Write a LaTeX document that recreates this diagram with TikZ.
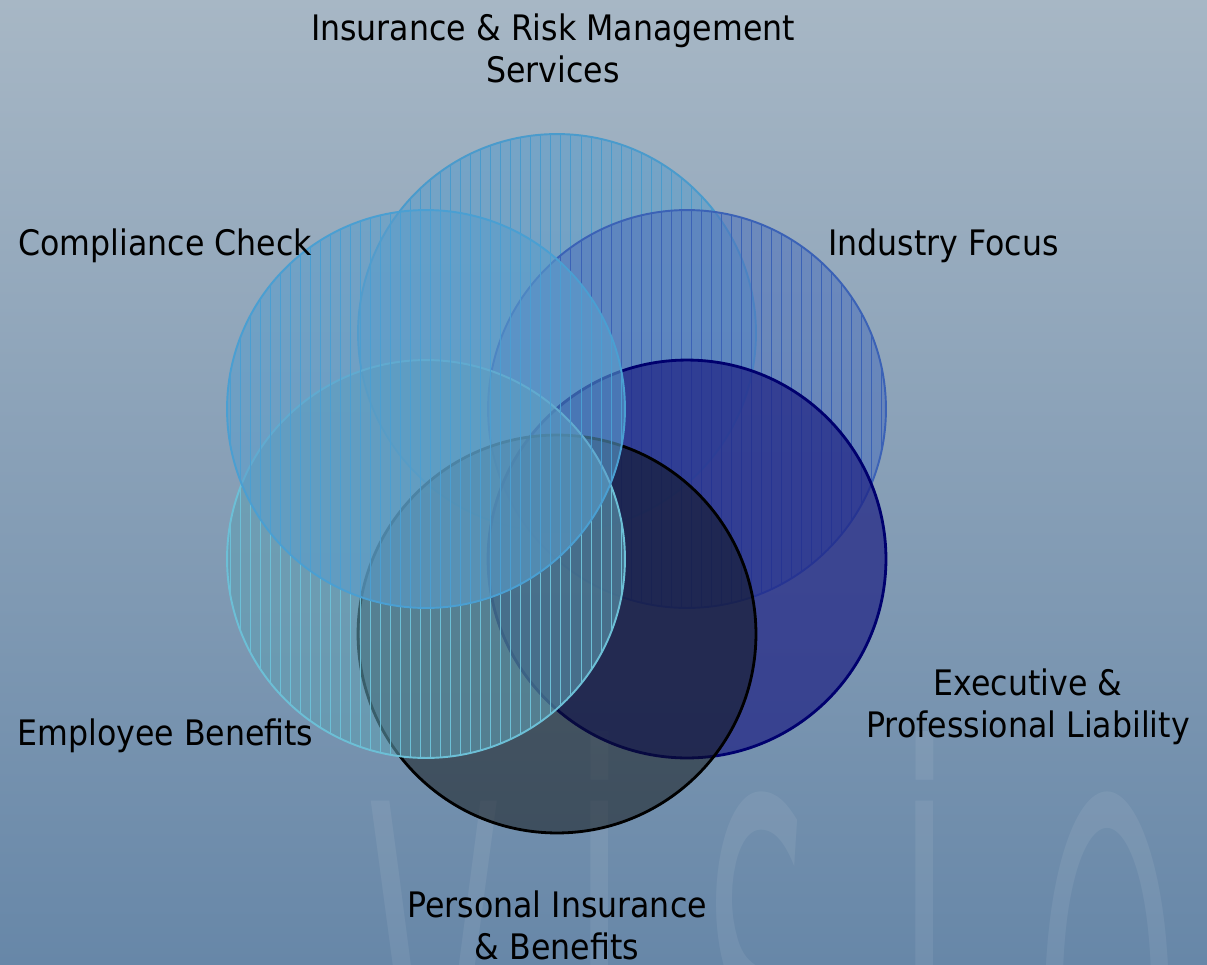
\documentclass[tikz,border=0pt]{standalone}
\usepackage{fontspec}
\setmainfont[FakeStretch=0.9]{DejaVu Sans}
\usepackage{tikz}
\usetikzlibrary{shapes.geometric,positioning,calc,patterns.meta}
\definecolor{BG_TOP}{HTML}{A7B7C5}
\definecolor{BG_MID}{HTML}{98ADC5}
\definecolor{BG_BOT}{HTML}{6787A8}
\definecolor{IRM_FILL}{HTML}{5C9DCA}
\definecolor{IRM_LINE}{HTML}{4A9BCC}
\definecolor{IND_FILL}{HTML}{5074BC}
\definecolor{IND_LINE}{HTML}{3B62B6}
\definecolor{EXE_FILL}{HTML}{1E2183}
\definecolor{EXE_LINE}{HTML}{00006E}
\definecolor{PER_FILL}{HTML}{0E1213}
\definecolor{PER_LINE}{HTML}{000000}
\definecolor{EMP_FILL}{HTML}{609EB2}
\definecolor{EMP_LINE}{HTML}{6CBFD6}
\definecolor{COM_FILL}{HTML}{5A9DCB}
\definecolor{COM_LINE}{HTML}{4A9FD2}
\tikzstyle{CIRCLE} = [circle, inner sep=0pt, minimum size=7.96cm, line width=1.1pt]
\tikzstyle{HATCH} = [pattern={Lines[angle=90, distance=5.7pt, line width=0.4pt]}]
\tikzstyle{LABEL} = [inner sep=0pt, align=center, text=black, font=\fontsize{20}{23.9}\selectfont]

\begin{document}
\begin{tikzpicture}[x=0.02cm, y=-0.02cm]
% Define
\tikzstyle{LIGHT} = [CIRCLE, fill opacity=0.6]
\tikzstyle{DARK} = [CIRCLE, line width=1.6pt]
\tikzstyle{WATERMARK} = [inner sep=0pt, anchor=base, text=white, text opacity=0.07, xscale=0.8, yscale=2.2, font=\sffamily\fontsize{150}{150}\selectfont]
% Background
\useasboundingbox (0,0) rectangle (1207,964);
\clip (0,0) rectangle (1207,964);
\shade [top color=BG_TOP, middle color=BG_MID, bottom color=BG_BOT] (0,0) rectangle (1207,964);
\foreach \ch/\xx in {V/434, İ/600, S/761, İ/925, O/1108}
  \node [WATERMARK] (WM\xx) at (\xx,1203) {\ch};
% Place node
\node [LIGHT, draw=IRM_LINE, fill=IRM_FILL, postaction={HATCH, pattern color=IRM_LINE}] (IRM) at (557,333) {};
\node [LIGHT, draw=IND_LINE, fill=IND_FILL, postaction={HATCH, pattern color=IND_LINE}] (INDUSTRY) at (687,409) {};
\node [DARK, draw=EXE_LINE, fill=EXE_FILL, fill opacity=0.7] (EXECUTIVE) at (687,559) {};
\node [DARK, draw=PER_LINE, fill=PER_FILL, fill opacity=0.5] (PERSONAL) at (557,634) {};
\node [LIGHT, draw=EMP_LINE, fill=EMP_FILL, postaction={HATCH, pattern color=EMP_LINE}] (EMPLOYEE) at (426,559) {};
\node [LIGHT, draw=COM_LINE, fill=COM_FILL, postaction={HATCH, pattern color=COM_LINE}] (COMPLIANCE) at (426,409) {};
% Labels
\node [LABEL, anchor=base] (L_IRM) at (553,82) {Insurance \& Risk Management\\Services};
\node [LABEL, anchor=base west] (L_COMPLIANCE) at (18,255) {Compliance Check};
\node [LABEL, anchor=base west] (L_INDUSTRY) at (828,255) {Industry Focus};
\node [LABEL, anchor=base] (L_EXECUTIVE) at (1028,737) {Executive \&\\Professional Liability};
\node [LABEL, anchor=base west] (L_EMPLOYEE) at (17,745) {Employee Benefits};
\node [LABEL, anchor=base] (L_PERSONAL) at (557,959) {Personal Insurance\\\& Benefits};
\end{tikzpicture}
\end{document}
